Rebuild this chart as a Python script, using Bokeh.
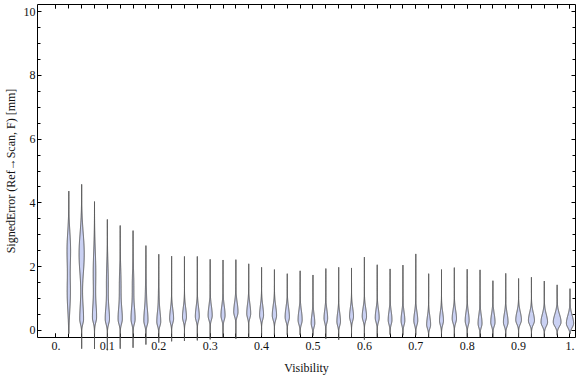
import numpy as np
from bokeh.plotting import figure
from bokeh.models import Range1d, FixedTicker, LinearAxis, ColumnDataSource, CustomJSTickFormatter
from bokeh.embed import file_html
from bokeh.resources import INLINE

# ---------------- data ----------------
visibility = [0.025, 0.05, 0.075, 0.1, 0.125, 0.15, 0.175, 0.2, 0.225, 0.25,
              0.275, 0.3, 0.325, 0.35, 0.375, 0.4, 0.425, 0.45, 0.475, 0.5,
              0.525, 0.55, 0.575, 0.6, 0.625, 0.65, 0.675, 0.7, 0.725, 0.75,
              0.775, 0.8, 0.825, 0.85, 0.875, 0.9, 0.925, 0.95, 0.975, 1.0]

# extreme values of the signed error per visibility bin
tail_max = [4.37, 4.58, 4.04, 3.48, 3.29, 3.13, 2.66, 2.39, 2.33, 2.32,
            2.32, 2.23, 2.21, 2.22, 2.09, 1.98, 1.91, 1.78, 1.87, 1.74,
            1.94, 1.98, 1.96, 2.30, 2.06, 1.93, 2.05, 2.40, 1.78, 1.91,
            1.97, 1.92, 1.90, 1.56, 1.79, 1.63, 1.67, 1.55, 1.43, 1.31]
tail_min = [-0.10, -0.57, -0.58, -0.62, -0.57, -0.54, -0.44, -0.38, -0.34, -0.33,
            -0.31, -0.28, -0.21, -0.26, -0.24, -0.16, -0.14, -0.14, -0.14, -0.16,
            -0.26, -0.29, -0.20, -0.29, -0.20, -0.13, -0.15, -0.15, -0.20, -0.20,
            -0.20, -0.20, -0.20, -0.20, -0.20, -0.20, -0.20, -0.20, -0.15, -0.10]

# main (lower) density lobe: location, peak density, spread below / above
mode_low = [1.15, 0.35, 0.40, 0.35, 0.35, 0.35, 0.30, 0.27, 0.37, 0.42,
            0.44, 0.47, 0.47, 0.58, 0.53, 0.48, 0.47, 0.42, 0.33, 0.23,
            0.38, 0.28, 0.44, 0.44, 0.40, 0.33, 0.31, 0.31, 0.18, 0.31,
            0.37, 0.31, 0.22, 0.26, 0.26, 0.33, 0.31, 0.26, 0.26, 0.22]
density_low = [1.8, 2.2, 2.2, 2.3, 2.3, 2.3, 2.3, 2.2, 2.3, 2.3,
               2.3, 2.4, 2.4, 2.5, 2.3, 2.3, 2.5, 2.5, 2.4, 2.1,
               2.1, 2.1, 2.3, 2.5, 2.3, 2.2, 2.2, 2.3, 2.3, 2.3,
               2.5, 2.3, 2.3, 2.5, 2.7, 3.3, 3.5, 3.8, 4.5, 4.2]
spread_dn = [0.55, 0.15, 0.15, 0.15, 0.15, 0.15, 0.14, 0.13, 0.14, 0.14,
             0.14, 0.14, 0.14, 0.14, 0.14, 0.14, 0.14, 0.14, 0.14, 0.13,
             0.14, 0.13, 0.14, 0.14, 0.14, 0.14, 0.14, 0.14, 0.12, 0.14,
             0.14, 0.14, 0.13, 0.13, 0.13, 0.13, 0.13, 0.13, 0.13, 0.13]
spread_up = [0.55, 0.50, 0.40, 0.35, 0.35, 0.35, 0.35, 0.30, 0.30, 0.30,
             0.30, 0.30, 0.30, 0.30, 0.30, 0.30, 0.30, 0.30, 0.30, 0.27,
             0.27, 0.27, 0.27, 0.27, 0.27, 0.27, 0.27, 0.27, 0.27, 0.27,
             0.27, 0.27, 0.27, 0.27, 0.27, 0.25, 0.25, 0.25, 0.25, 0.25]

# secondary (upper) lobe, present in the low-visibility bins only
mode_high = [2.55, 2.40, 1.80, 1.50, 1.40, 1.40, 1.10, 1.00] + [0.0] * 32
density_high = [2.0, 3.0, 1.5, 1.1, 1.0, 0.9, 0.6, 0.45] + [0.0] * 32
spread_high = [0.55, 0.65, 0.70, 0.60, 0.55, 0.50, 0.45, 0.40] + [1.0] * 32

x_tick_values = [0.0, 0.1, 0.2, 0.3, 0.4, 0.5, 0.6, 0.7, 0.8, 0.9, 1.0]
x_tick_labels = ["0.", "0.1", "0.2", "0.3", "0.4", "0.5", "0.6", "0.7", "0.8", "0.9", "1."]
x_minor_ticks = [0.0] + visibility
y_tick_values = [0, 2, 4, 6, 8, 10]
y_minor_ticks = [k * 0.5 for k in range(21)]

# ---------------- styling ----------------
FONT = "Liberation Serif"
VIOLIN_SCALE = 0.00168   # x-units per unit of density
FILL = "#cad1f3"
EDGE = "#4d4d4d"

# ---------------- violin outlines ----------------
xs, ys = [], []
for i, v in enumerate(visibility):
    y = np.linspace(tail_min[i], tail_max[i], 400)
    s = np.where(y < mode_low[i], spread_dn[i], spread_up[i])
    d = density_low[i] * np.exp(-0.5 * ((y - mode_low[i]) / s) ** 2)
    d = d + density_high[i] * np.exp(-0.5 * ((y - mode_high[i]) / spread_high[i]) ** 2)
    hw = d * VIOLIN_SCALE
    xs.append(list(np.concatenate([v + hw, (v - hw)[::-1]])))
    ys.append(list(np.concatenate([y, y[::-1]])))

src = ColumnDataSource(dict(xs=xs, ys=ys))

p = figure(width=576, height=377,
           x_range=Range1d(-0.0359, 1.0107), y_range=Range1d(-0.22, 10.22),
           output_backend="svg", toolbar_location=None,
           min_border_left=36, min_border_right=1, min_border_top=4, min_border_bottom=40,
           x_axis_label="Visibility", y_axis_label="SignedError (Ref\u2192Scan, F) [mm]")
p.grid.visible = False
p.outline_line_color = None
p.background_fill_color = "white"
p.border_fill_color = "white"

bottom = p.xaxis[0]
left = p.yaxis[0]

r = p.patches("xs", "ys", source=src, fill_color=FILL, line_color=EDGE, line_width=1)
r.level = "overlay"

xfmt = CustomJSTickFormatter(args=dict(vals=x_tick_values, labs=x_tick_labels), code="""
    for (let i = 0; i < vals.length; i++) { if (Math.abs(vals[i] - tick) < 1e-9) return labs[i]; }
    return "";
""")
blank = CustomJSTickFormatter(code="return '';")

top = LinearAxis()
right = LinearAxis()
p.add_layout(top, "above")
p.add_layout(right, "right")

for ax in [bottom, top]:
    ax.ticker = FixedTicker(ticks=x_tick_values, minor_ticks=x_minor_ticks)
    ax.major_tick_in = 4
    ax.major_tick_out = 0
    ax.minor_tick_in = 4
    ax.minor_tick_out = 0

for ax in [left, right]:
    ax.ticker = FixedTicker(ticks=y_tick_values, minor_ticks=y_minor_ticks)
    ax.major_tick_in = 4
    ax.major_tick_out = 0
    ax.minor_tick_in = 3
    ax.minor_tick_out = 0

for ax in [bottom, top, left, right]:
    ax.axis_line_color = "black"
    ax.major_tick_line_color = "black"
    ax.minor_tick_line_color = "black"
    ax.axis_line_width = 1
    ax.major_label_text_font = FONT
    ax.major_label_text_font_size = "12px"
    ax.major_label_text_color = "#111111"
    ax.axis_label_text_font = FONT
    ax.axis_label_text_font_size = "12px"
    ax.axis_label_text_font_style = "normal"
    ax.axis_label_text_color = "#111111"

bottom.formatter = xfmt
for ax in [top, right]:
    ax.formatter = blank
    ax.major_label_standoff = 0
    ax.axis_label_standoff = 0

bottom.major_label_standoff = 4
bottom.axis_label_standoff = 8
left.major_label_standoff = 2
left.axis_label_standoff = 3

open("out.html", "w").write(file_html(p, INLINE))
